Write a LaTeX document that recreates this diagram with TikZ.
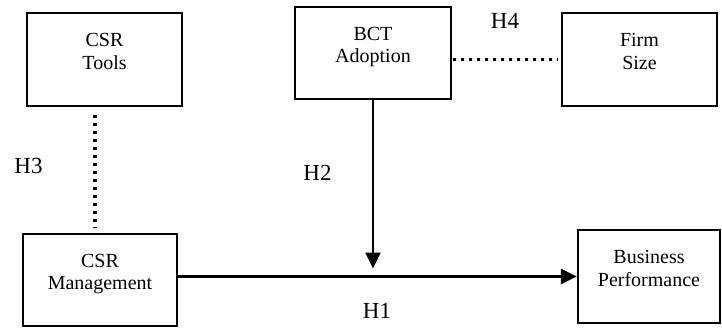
\documentclass[tikz,border=0pt]{standalone}
\usepackage{fontspec}
\setmainfont{Liberation Serif}
\usetikzlibrary{arrows.meta}
\newcommand{\boxtext}[1]{\raisebox{6pt}[\height][\depth]{\begin{tabular}{@{}c@{}}#1\end{tabular}}}
\begin{document}
\begin{tikzpicture}[x=1pt,y=-1pt,
  boxnode/.style={draw=black,line width=2.3pt,fill=white,inner sep=0pt,
    font=\fontsize{20}{22.5}\selectfont},
  hlabel/.style={font=\fontsize{23}{27}\selectfont,inner sep=0pt},
  dotline/.style={line width=3.2pt,dash pattern=on 3.2pt off 4.8pt,line cap=butt},
  arrowline/.style={line width=2.3pt,-{Triangle[length=16pt,width=15pt]}}]
\useasboundingbox (0,0) rectangle (722,327);
% boxes
\node[boxnode,minimum width=155pt,minimum height=93pt] (tools) at (104.5,59.5) {\boxtext{CSR\\Tools}};
\node[boxnode,minimum width=156pt,minimum height=92pt] (bct) at (373,53) {\boxtext{BCT\\Adoption}};
\node[boxnode,minimum width=155pt,minimum height=93pt] (firm) at (639.5,59.5) {\boxtext{Firm\\Size}};
\node[boxnode,minimum width=154pt,minimum height=92pt] (mgmt) at (100,280) {\boxtext{CSR\\Management}};
\node[boxnode,minimum width=142pt,minimum height=93pt] (perf) at (649,276.5) {\boxtext{Business\\Performance}};
% connectors
\draw[dotline,shorten <=7.5pt,shorten >=5.5pt] ([xshift=-9.5pt]tools.south) -- ([xshift=-9.5pt]tools.south |- mgmt.north);
\draw[dotline,shorten <=1pt,shorten >=3.5pt] (firm.west -| bct.east) -- (firm.west);
\draw[arrowline] (mgmt.east |- perf.west) -- (perf.west);
\draw[arrowline] (bct.south) -- ([yshift=8pt]bct.south |- perf.west);
% labels
\node[hlabel] (h1) at (377,311) {H1};
\node[hlabel] (h2) at (317.5,172.5) {H2};
\node[hlabel] (h3) at (28.5,166) {H3};
\node[hlabel] (h4) at (505,20.5) {H4};
\end{tikzpicture}
\end{document}
